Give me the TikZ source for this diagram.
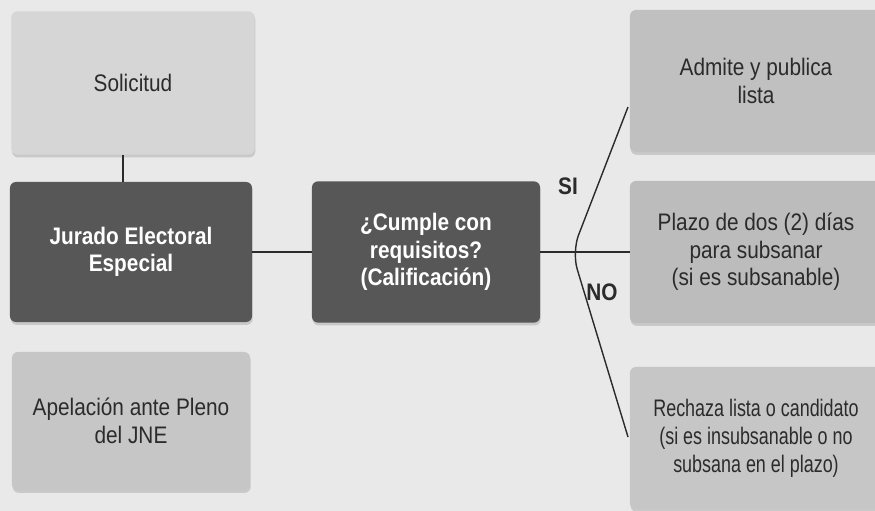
\documentclass[tikz,border=0pt]{standalone}
\usepackage{fontspec}
\setmainfont{Liberation Sans}[FakeStretch=0.87]
\newfontfamily\estrecha{Liberation Sans}[FakeStretch=0.75]
\usetikzlibrary{shadows}

\definecolor{fondo}{HTML}{E9E9E9}
\definecolor{claro}{HTML}{D6D6D6}
\definecolor{medio}{HTML}{C6C6C6}
\definecolor{medioB}{HTML}{BCBCBC}
\definecolor{oscuro}{HTML}{575757}
\definecolor{texto}{HTML}{2B2B2B}

\tikzstyle{every node}=[font=\fontsize{17pt}{19.5pt}\selectfont, text=texto]
\tikzstyle{caja}=[rounded corners=0.15cm, align=center, inner sep=0pt,
  drop shadow={opacity=0.3, shadow xshift=0.5pt, shadow yshift=-2pt}]
\tikzstyle{cajaclara}=[caja, fill=claro]
\tikzstyle{cajamedia}=[caja, fill=medio]
\tikzstyle{cajaoscura}=[caja, fill=oscuro, text=white, font=\fontsize{17pt}{19.5pt}\selectfont\bfseries]
\tikzstyle{linea}=[draw=texto, line width=1pt]
\tikzstyle{rotulo}=[font=\fontsize{17pt}{19.5pt}\selectfont\bfseries]

\begin{document}
\begin{tikzpicture}[x=0.025cm, y=-0.025cm]
		            % Fondo
		            \fill[fondo] (0,0) rectangle (875,511);
		            \useasboundingbox (0,0) rectangle (875,511);

		            % Columna izquierda
		            \node[cajaclara, minimum width=6.08cm, minimum height=3.58cm] (solicitud) at (133,83) {Solicitud};
		            \node[cajaoscura, minimum width=6.05cm, minimum height=3.5cm] (jurado) at (131,252) {Jurado Electoral\\Especial};
		            \node[cajamedia, minimum width=5.95cm, minimum height=3.45cm] (apelacion) at (131,421) {Apelación ante Pleno\\del JNE};

		            % Calificación
		            \node[cajaoscura, minimum width=5.7cm, minimum height=3.53cm] (cumple) at (426,252) {¿Cumple con\\requisitos?\\(Calificación)};

		            % Columna derecha
		            \node[cajamedia, fill=medio!97!black, minimum width=6.3cm, minimum height=3.55cm] (admite) at (756,81) {Admite y publica\\lista};
		            \node[cajamedia, fill=medioB, minimum width=6.3cm, minimum height=3.55cm] (plazo) at (756,252) {Plazo de dos (2) días\\para subsanar\\(si es subsanable)};
		            \node[cajamedia, minimum width=6.3cm, minimum height=3.55cm, font=\fontsize{17pt}{20pt}\selectfont\estrecha] (rechaza) at (756,438) {Rechaza lista o candidato\\(si es insubsanable o no\\subsana en el plazo)};

		            % Conectores
		            \draw[linea] ([xshift=-0.25cm]solicitud.south) -- ([xshift=-0.25cm]solicitud.south |- jurado.north);
		            \draw[linea] (jurado.east) -- (cumple.west);
		            \draw[linea] (cumple.east) -- (plazo.west);

		            % Llave SI / NO
		            \coordinate (si) at (628,107);
		            \coordinate (vertice) at (572,252);
		            \coordinate (no) at (628,437);
		            \draw[linea, rounded corners=0.45cm] (si) -- (vertice) -- (no);
		            \node[rotulo] (etsi) at (568,186) {SI};
		            \node[rotulo] (etno) at (602,292) {NO};
		        \end{tikzpicture}
\end{document}
